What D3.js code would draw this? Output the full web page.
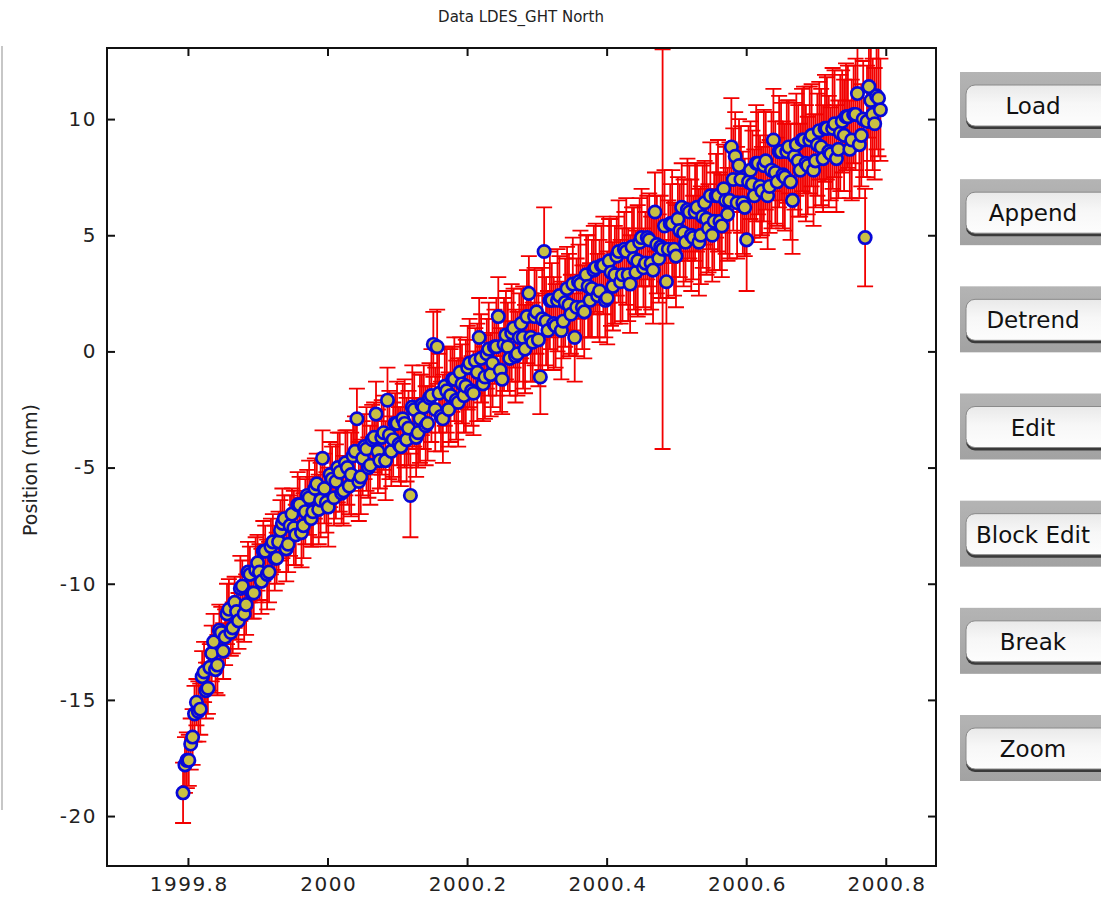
<!DOCTYPE html>
<html>
<head>
<meta charset="utf-8">
<script src="https://cdn.jsdelivr.net/npm/d3@7"></script>
<style>
  body { margin: 0; background: #fff; }
  svg { display: block; }
</style>
</head>
<body>
<div id="chart"></div>
<script>
// daily solutions: day offset from first epoch, north position (mm), 1-sigma (mm)
var startYear = 1999.793;

// odd days (plus day 0)
var daysA = [0,1,3,5,7,9,11,13,15,17,
  19,21,23,25,27,29,31,33,35,37,
  39,41,43,45,47,49,51,53,55,57,
  59,61,63,65,67,69,71,73,75,77,
  79,81,83,85,87,89,91,93,95,97,
  99,101,103,105,107,109,111,113,115,117,
  119,121,123,125,127,129,131,133,135,137,
  139,141,143,145,147,149,151,153,155,157,
  159,161,163,165,167,169,171,173,175,177,
  179,181,183,185,187,189,191,193,195,197,
  199,201,203,205,207,209,211,213,215,217,
  219,221,223,225,227,229,231,233,235,237,
  239,241,243,245,247,249,251,253,255,257,
  259,261,263,265,267,269,271,273,275,277,
  279,281,283,285,287,289,291,293,295,297,
  299,301,303,305,307,309,311,313,315,317,
  319,321,323,325,327,329,331,333,335,337,
  339,341,343,345,347,349,351,353,355,357,
  359,361,363,365];
var northA = [-19.0,-17.8,-17.6,-16.6,-15.1,-15.4,-13.8,-14.5,-13.0,-13.7,
  -12.0,-12.9,-11.3,-12.1,-10.8,-11.6,-10.1,-10.9,-9.6,-10.4,
  -9.1,-9.9,-8.6,-9.5,-8.2,-8.9,-7.7,-7.2,-8.3,-7.0,
  -7.9,-6.6,-7.5,-6.2,-7.2,-5.9,-6.8,-4.6,-6.5,-5.3,
  -6.3,-5.0,-6.1,-4.8,-5.8,-4.5,-2.9,-5.4,-4.1,-5.0,
  -3.8,-2.7,-4.7,-3.5,-2.1,-4.3,-3.1,-4.0,-2.9,-3.8,
  -6.2,-2.5,-3.5,-2.3,-3.2,-2.0,0.3,0.2,-2.8,-1.5,
  -2.5,-1.2,-2.1,-0.9,-1.9,-0.7,-1.7,-0.4,0.6,-1.4,
  -0.1,-1.0,0.2,1.5,-1.2,0.7,-0.3,1.0,-0.1,1.2,
  0.1,2.5,0.4,1.7,-1.1,4.3,0.9,2.2,1.1,2.4,
  1.3,2.7,1.6,0.6,3.0,1.9,3.3,2.2,3.5,2.4,
  3.7,2.2,3.9,2.8,4.1,3.0,4.4,3.3,4.5,3.4,
  4.7,3.6,4.9,3.8,6.0,4.0,4.4,3.0,5.5,4.4,
  5.7,6.2,4.7,6.0,4.9,6.2,5.0,6.4,5.3,5.0,
  6.7,5.6,7.0,5.9,8.8,8.4,8.0,6.4,4.8,7.8,
  6.7,8.1,6.9,8.2,7.1,9.1,7.3,8.6,7.5,8.8,
  6.5,8.9,7.8,9.1,8.0,9.3,8.2,9.5,8.3,9.6,
  8.5,9.8,8.7,9.9,10.1,8.7,10.2,11.1,9.3,4.9,
  11.4,10.2,11.0,10.4];
var sigmaA = [1.3,1.2,1.1,1.2,1.0,1.1,1.3,1.1,1.2,1.0,
  1.1,1.2,1.3,1.0,1.1,1.2,1.1,1.3,1.2,1.1,
  1.2,1.4,1.1,1.3,1.2,1.1,1.3,1.0,1.2,1.1,
  1.3,1.2,1.4,1.1,1.2,1.3,1.5,1.2,1.3,1.4,
  1.2,1.5,1.3,1.4,1.2,1.5,1.3,1.6,1.4,1.3,
  1.5,1.4,1.2,1.6,1.4,1.5,1.3,1.6,1.5,1.8,
  1.8,1.6,1.5,1.3,1.7,1.5,1.4,1.6,1.5,1.7,
  1.6,1.4,1.7,1.5,1.6,1.8,1.5,1.4,1.7,1.6,
  1.5,1.8,1.6,1.7,1.5,1.9,1.6,1.7,1.8,1.5,
  1.9,1.6,1.7,1.8,1.6,1.9,1.7,1.6,1.8,1.7,
  1.6,1.8,1.7,1.9,1.6,1.8,1.7,1.6,1.9,1.8,
  1.7,1.6,1.8,1.9,1.7,1.8,1.6,2.0,1.7,1.8,
  1.9,1.7,1.8,2.0,1.7,1.9,8.6,1.8,1.7,2.0,
  1.8,1.9,1.7,2.0,1.8,1.9,2.1,1.8,1.9,2.0,
  1.8,2.1,1.9,2.0,2.1,1.9,2.0,2.2,2.2,2.1,
  2.0,2.2,1.9,2.1,2.0,2.2,1.9,2.1,2.3,2.0,
  2.3,2.2,2.0,2.3,2.1,2.2,2.0,2.1,2.3,2.2,
  2.0,2.3,2.1,2.2,2.3,2.1,2.1,2.4,2.2,2.1,
  2.2,2.4,2.3,2.2];

// even days
var daysB = [2,4,6,8,10,12,14,16,18,20,
  22,24,26,28,30,32,34,36,38,40,
  42,44,46,48,50,52,54,56,58,60,
  62,64,66,68,70,72,74,76,78,80,
  82,84,86,88,90,92,94,96,98,100,
  102,104,106,108,110,112,114,116,118,120,
  122,124,126,128,130,132,134,136,138,140,
  142,144,146,148,150,152,154,156,158,160,
  162,164,166,168,170,172,174,176,178,180,
  182,184,186,188,190,192,194,196,198,200,
  202,204,206,208,210,212,214,216,218,220,
  222,224,226,228,230,232,234,236,238,240,
  242,244,246,248,250,252,254,256,258,260,
  262,264,266,268,270,272,274,276,278,280,
  282,284,286,288,290,292,294,296,298,300,
  302,304,306,308,310,312,314,316,318,320,
  322,324,326,328,330,332,334,336,338,340,
  342,344,346,348,350,352,354,356,358,360,
  362,364];
var northB = [-17.6,-16.9,-15.6,-15.5,-14.0,-14.6,-13.6,-12.5,-13.5,-12.1,
  -12.3,-11.1,-11.9,-11.2,-10.2,-11.3,-9.5,-10.4,-9.4,-9.5,
  -8.6,-9.6,-8.4,-8.9,-8.2,-7.4,-8.5,-7.5,-7.6,-6.6,
  -7.8,-6.9,-6.3,-6.9,-5.7,-6.4,-5.9,-6.7,-5.5,-5.6,
  -5.2,-6.0,-5.0,-5.3,-4.3,-5.6,-4.6,-4.2,-4.9,-3.7,
  -4.3,-3.7,-4.7,-3.6,-3.8,-3.1,-4.1,-3.1,-3.3,-2.4,
  -3.7,-2.9,-2.4,-3.1,-1.9,-2.5,-1.8,-2.9,-1.7,-1.9,
  -1.2,-2.2,-1.4,-1.5,-0.5,-1.8,-0.9,-0.3,-1.1,0.1,
  -0.5,0.2,-0.8,0.3,0.2,0.8,-0.2,0.6,0.6,1.5,
  0.6,1.5,0.5,1.4,1.3,2.2,1.2,2.2,0.9,2.1,
  2.0,2.9,1.9,2.9,1.7,2.8,2.7,3.6,2.6,3.7,
  2.3,3.4,3.3,4.3,3.3,4.3,2.9,4.0,3.9,4.9,
  3.8,4.8,3.5,4.6,4.5,5.4,4.4,5.5,4.1,5.2,
  5.1,6.1,5.0,6.0,4.7,5.8,5.7,6.7,5.6,6.7,
  5.4,6.5,6.5,7.4,6.4,7.4,6.2,7.3,7.2,8.1,
  7.1,8.0,6.7,7.8,7.7,8.6,7.6,8.6,7.3,8.4,
  8.2,9.1,8.1,9.1,7.8,8.9,8.8,9.6,8.6,9.6,
  8.3,9.4,9.3,10.1,9.1,10.2,8.9,10.0,9.9,10.8,
  9.8,10.9];
var sigmaB = [1.2,1.1,1.2,1.3,1.1,1.2,1.0,1.2,1.3,1.1,
  1.2,1.3,1.1,1.2,1.4,1.2,1.3,1.1,1.4,1.2,
  1.3,1.5,1.2,1.4,1.3,1.5,1.4,1.3,1.6,1.4,
  1.5,1.4,1.6,1.5,1.3,1.6,1.5,1.7,1.4,1.6,
  1.7,1.5,1.6,1.8,1.5,1.7,1.6,1.8,1.7,1.5,
  1.8,1.6,1.7,1.9,1.6,1.8,1.7,1.9,1.6,1.8,
  1.7,1.9,1.8,1.6,2.0,1.8,1.7,1.9,1.8,2.0,
  1.8,1.9,1.7,2.0,1.9,1.8,2.1,1.9,1.8,2.0,
  1.9,2.1,1.8,2.0,1.9,2.1,2.0,1.9,2.2,2.0,
  1.9,2.1,2.0,2.2,1.9,2.1,2.0,2.2,2.1,1.9,
  2.2,2.0,2.1,2.3,2.0,2.2,2.1,1.9,2.2,2.1,
  2.0,2.3,2.1,2.2,2.0,2.3,2.1,2.2,2.4,2.1,
  2.2,2.0,2.3,2.1,2.2,2.4,2.1,2.3,2.2,2.0,
  2.3,2.2,2.4,2.1,2.3,2.2,2.4,2.3,2.1,2.4,
  2.2,2.3,2.5,2.2,2.4,2.3,2.1,2.4,2.3,2.5,
  2.2,2.4,2.3,2.5,2.2,2.4,2.3,2.2,2.5,2.3,
  2.4,2.2,2.5,2.3,2.4,2.2,2.5,2.3,2.4,2.6,
  2.3,2.5,2.4,2.2,2.6,2.4,2.3,2.5,2.4,2.6,
  2.4,2.5];

var xTicks = [1999.8, 2000, 2000.2, 2000.4, 2000.6, 2000.8];
var yTicks = [-20, -15, -10, -5, 0, 5, 10];
var buttonLabels = ["Load", "Append", "Detrend", "Edit", "Block Edit", "Break", "Zoom"];

var width = 1101, height = 899;
var plot = { left: 107, right: 936, top: 48, bottom: 866 };

var svg = d3.select("#chart").append("svg")
    .attr("width", width)
    .attr("height", height)
    .style("font-family", "'DejaVu Sans', sans-serif");

var x = d3.scaleLinear().domain([1999.684, 2000.872]).range([plot.left, plot.right]);
var y = d3.scaleLinear().domain([-22.15, 13.06]).range([plot.bottom, plot.top]);

function toPoints(days, vals, sig) {
    return days.map(function(d, i) {
        return { day: d, t: startYear + d / 365.25, v: vals[i], s: sig[i] };
    });
}
var data = toPoints(daysA, northA, sigmaA).concat(toPoints(daysB, northB, sigmaB));
data.sort(function(a, b) { return a.day - b.day; });

var defs = svg.append("defs");
defs.append("clipPath").attr("id", "plotclip")
    .append("rect")
    .attr("x", plot.left).attr("y", plot.top)
    .attr("width", plot.right - plot.left)
    .attr("height", plot.bottom - plot.top);

// faint window edge on the far left
svg.append("line")
    .attr("x1", 2).attr("x2", 2).attr("y1", 46).attr("y2", 810)
    .attr("stroke", "#b5b5b5").attr("stroke-width", 1.5);

// title
svg.append("text")
    .attr("x", 521).attr("y", 22)
    .attr("text-anchor", "middle")
    .style("font-size", "15px")
    .attr("fill", "#222")
    .text("Data LDES_GHT North");

// y label
svg.append("text")
    .attr("transform", "translate(37,470) rotate(-90)")
    .attr("text-anchor", "middle")
    .style("font-size", "19px")
    .attr("fill", "#222")
    .text("Position (mm)");

var marks = svg.append("g").attr("clip-path", "url(#plotclip)");

// error bars
var bars = marks.append("g").attr("stroke", "#f20000").attr("stroke-width", 1.8).attr("fill", "none");
var capW = 8;
bars.selectAll("path")
    .data(data)
    .enter().append("path")
    .attr("d", function(d) {
        var cx = x(d.t), y0 = y(d.v - d.s), y1 = y(d.v + d.s);
        return "M" + cx + "," + y0 + "V" + y1 +
            "M" + (cx - capW) + "," + y0 + "H" + (cx + capW) +
            "M" + (cx - capW) + "," + y1 + "H" + (cx + capW);
    });

// markers
marks.append("g").selectAll("circle")
    .data(data)
    .enter().append("circle")
    .attr("cx", function(d) { return x(d.t); })
    .attr("cy", function(d) { return y(d.v); })
    .attr("r", 6.2)
    .attr("fill", "#c8c044")
    .attr("stroke", "#0808d8")
    .attr("stroke-width", 2.7);

// axes, ticks pointing inward
var fmtX = function(d) { return String(+d.toFixed(1)); };
var fmtY = function(d) { return String(d); };
var axB = svg.append("g").attr("transform", "translate(0," + plot.bottom + ")")
    .call(d3.axisBottom(x).tickValues(xTicks).tickFormat(fmtX).tickSizeInner(-8).tickSizeOuter(0).tickPadding(11));
var axT = svg.append("g").attr("transform", "translate(0," + plot.top + ")")
    .call(d3.axisTop(x).tickValues(xTicks).tickFormat("").tickSizeInner(-8).tickSizeOuter(0));
var axL = svg.append("g").attr("transform", "translate(" + plot.left + ",0)")
    .call(d3.axisLeft(y).tickValues(yTicks).tickFormat(fmtY).tickSizeInner(-8).tickSizeOuter(0).tickPadding(10));
var axR = svg.append("g").attr("transform", "translate(" + plot.right + ",0)")
    .call(d3.axisRight(y).tickValues(yTicks).tickFormat("").tickSizeInner(-8).tickSizeOuter(0));

[axB, axT, axL, axR].forEach(function(a) {
    a.select(".domain").remove();
    a.selectAll(".tick line").attr("stroke", "#111").attr("stroke-width", 2);
    a.selectAll("text").style("font-size", "20px").style("letter-spacing", "1.5px")
        .style("font-family", "'DejaVu Sans', sans-serif").attr("fill", "#222");
});
axB.selectAll("text").attr("dx", "0.75px");

svg.append("rect")
    .attr("x", plot.left).attr("y", plot.top)
    .attr("width", plot.right - plot.left).attr("height", plot.bottom - plot.top)
    .attr("fill", "none").attr("stroke", "#111").attr("stroke-width", 2);

// buttons on the right
var bgGrad = defs.append("linearGradient").attr("id", "bggrad").attr("x1", 0).attr("x2", 0).attr("y1", 0).attr("y2", 1);
bgGrad.append("stop").attr("offset", "0%").attr("stop-color", "#b4b4b4");
bgGrad.append("stop").attr("offset", "100%").attr("stop-color", "#a2a2a2");
var btnGrad = defs.append("linearGradient").attr("id", "btngrad").attr("x1", 0).attr("x2", 0).attr("y1", 0).attr("y2", 1);
btnGrad.append("stop").attr("offset", "0%").attr("stop-color", "#e9e9e9");
btnGrad.append("stop").attr("offset", "45%").attr("stop-color", "#f7f7f7");
btnGrad.append("stop").attr("offset", "100%").attr("stop-color", "#fdfdfd");

var btnY = d3.scalePoint().domain(buttonLabels).range([106, 749]);

var btn = svg.append("g").selectAll("g")
    .data(buttonLabels)
    .enter().append("g")
    .attr("transform", function(d) { return "translate(0," + btnY(d) + ")"; });

btn.append("rect")
    .attr("x", 960).attr("y", -34).attr("width", 150).attr("height", 66)
    .attr("fill", "url(#bggrad)");
btn.append("rect")
    .attr("x", 966).attr("y", -19).attr("width", 150).attr("height", 42).attr("rx", 9)
    .attr("fill", "#3a3a3a");
btn.append("rect")
    .attr("x", 966).attr("y", -21).attr("width", 150).attr("height", 41).attr("rx", 9)
    .attr("fill", "url(#btngrad)").attr("stroke", "#8a8a8a").attr("stroke-width", 1);
btn.append("text")
    .attr("x", 1033).attr("y", 8)
    .attr("text-anchor", "middle")
    .style("font-size", "23px")
    .attr("fill", "#111")
    .text(function(d) { return d; });
</script>
</body>
</html>
